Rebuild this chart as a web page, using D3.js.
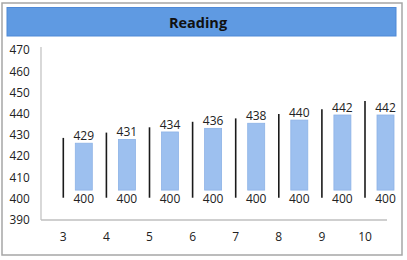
<!DOCTYPE html>
<html>
<head>
<meta charset="utf-8">
<title>Reading</title>
<script src="https://cdn.jsdelivr.net/npm/d3@7"></script>
<style>
  body { margin: 0; background: #fff; }
  text { font-family: "Open Sans", "Liberation Sans", sans-serif; fill: #222; }
</style>
</head>
<body>
<svg id="chart"></svg>
<script>
// categories and values
var categories = [3, 4, 5, 6, 7, 8, 9, 10];
var topLabels = [429, 431, 434, 436, 438, 440, 442, 442];
var lineHigh = [428.7, 431.2, 433.7, 436.3, 437.9, 440.0, 442.2, 446.1];
var lineLow = [400.5, 400.5, 400.5, 400.5, 400.5, 400.5, 400.5, 400.5];
var barTop = [426.2, 428.0, 431.5, 433.2, 435.6, 437.1, 439.5, 439.5];
var barBase = [404.1, 404.1, 404.1, 404.1, 404.1, 404.1, 404.1, 404.1];
var baseLabels = [400, 400, 400, 400, 400, 400, 400, 400];
var yTicks = [390, 400, 410, 420, 430, 440, 450, 460, 470];

var W = 407, H = 260;
var svg = d3.select("#chart").attr("width", W).attr("height", H);

// outer frame
svg.append("rect").attr("x", 2).attr("y", 3).attr("width", 400).attr("height", 252)
  .attr("fill", "#fff").attr("stroke", "#a6a6a6").attr("stroke-width", 1.5);

// title band
svg.append("rect").attr("x", 7).attr("y", 7.5).attr("width", 389).attr("height", 28.5)
  .attr("fill", "#5f9ae2").attr("stroke", "#4f89d6").attr("stroke-width", 1);
svg.append("text").attr("x", 198).attr("y", 27.5).attr("text-anchor", "middle")
  .style("font-size", "14.5px").style("font-weight", "bold").style("fill", "#111")
  .text("Reading");

var y = d3.scaleLinear().domain([390, 470]).range([220, 50.3]);
var x = d3.scaleLinear().domain([3, 10]).range([63.3, 365]);
var barOffset = 20.5, barW = 17;

// axes lines
svg.append("line").attr("x1", 41).attr("x2", 41).attr("y1", 47).attr("y2", y(390))
  .attr("stroke", "#bfbfbf").attr("stroke-width", 1.2);
svg.append("line").attr("x1", 41).attr("x2", 387).attr("y1", y(390)).attr("y2", y(390))
  .attr("stroke", "#bfbfbf").attr("stroke-width", 1.5);

// y tick labels
svg.append("g").selectAll("text").data(yTicks).enter().append("text")
  .attr("x", 9.5).attr("y", function(d) { return y(d); }).attr("dy", "0.35em")
  .style("font-size", "11.8px").text(function(d) { return d; });

// x tick labels
svg.append("g").selectAll("text").data(categories).enter().append("text")
  .attr("x", function(d) { return x(d); }).attr("y", 240.5).attr("text-anchor", "middle")
  .style("font-size", "12px").text(function(d) { return d; });

// high-low lines
svg.append("g").selectAll("line").data(categories).enter().append("line")
  .attr("x1", function(d) { return x(d); }).attr("x2", function(d) { return x(d); })
  .attr("y1", function(d, i) { return y(lineLow[i]); })
  .attr("y2", function(d, i) { return y(lineHigh[i]); })
  .attr("stroke", "#1a1a1a").attr("stroke-width", 1.6);

// bars
svg.append("g").selectAll("rect").data(categories).enter().append("rect")
  .attr("x", function(d) { return x(d) + barOffset - barW / 2; })
  .attr("width", barW)
  .attr("y", function(d, i) { return y(barTop[i]); })
  .attr("height", function(d, i) { return y(barBase[i]) - y(barTop[i]); })
  .attr("fill", "#9dc0ef").attr("stroke", "#8db2e6").attr("stroke-width", 0.8);

// value labels
svg.append("g").selectAll("text").data(categories).enter().append("text")
  .attr("x", function(d) { return x(d) + barOffset; })
  .attr("y", function(d, i) { return y(barTop[i]) - 3; })
  .attr("text-anchor", "middle").style("font-size", "12px")
  .text(function(d, i) { return topLabels[i]; });

svg.append("g").selectAll("text").data(categories).enter().append("text")
  .attr("x", function(d) { return x(d) + barOffset; })
  .attr("y", function(d, i) { return y(400); }).attr("dy", "0.35em")
  .attr("text-anchor", "middle").style("font-size", "12px")
  .text(function(d, i) { return baseLabels[i]; });
</script>
</body>
</html>
